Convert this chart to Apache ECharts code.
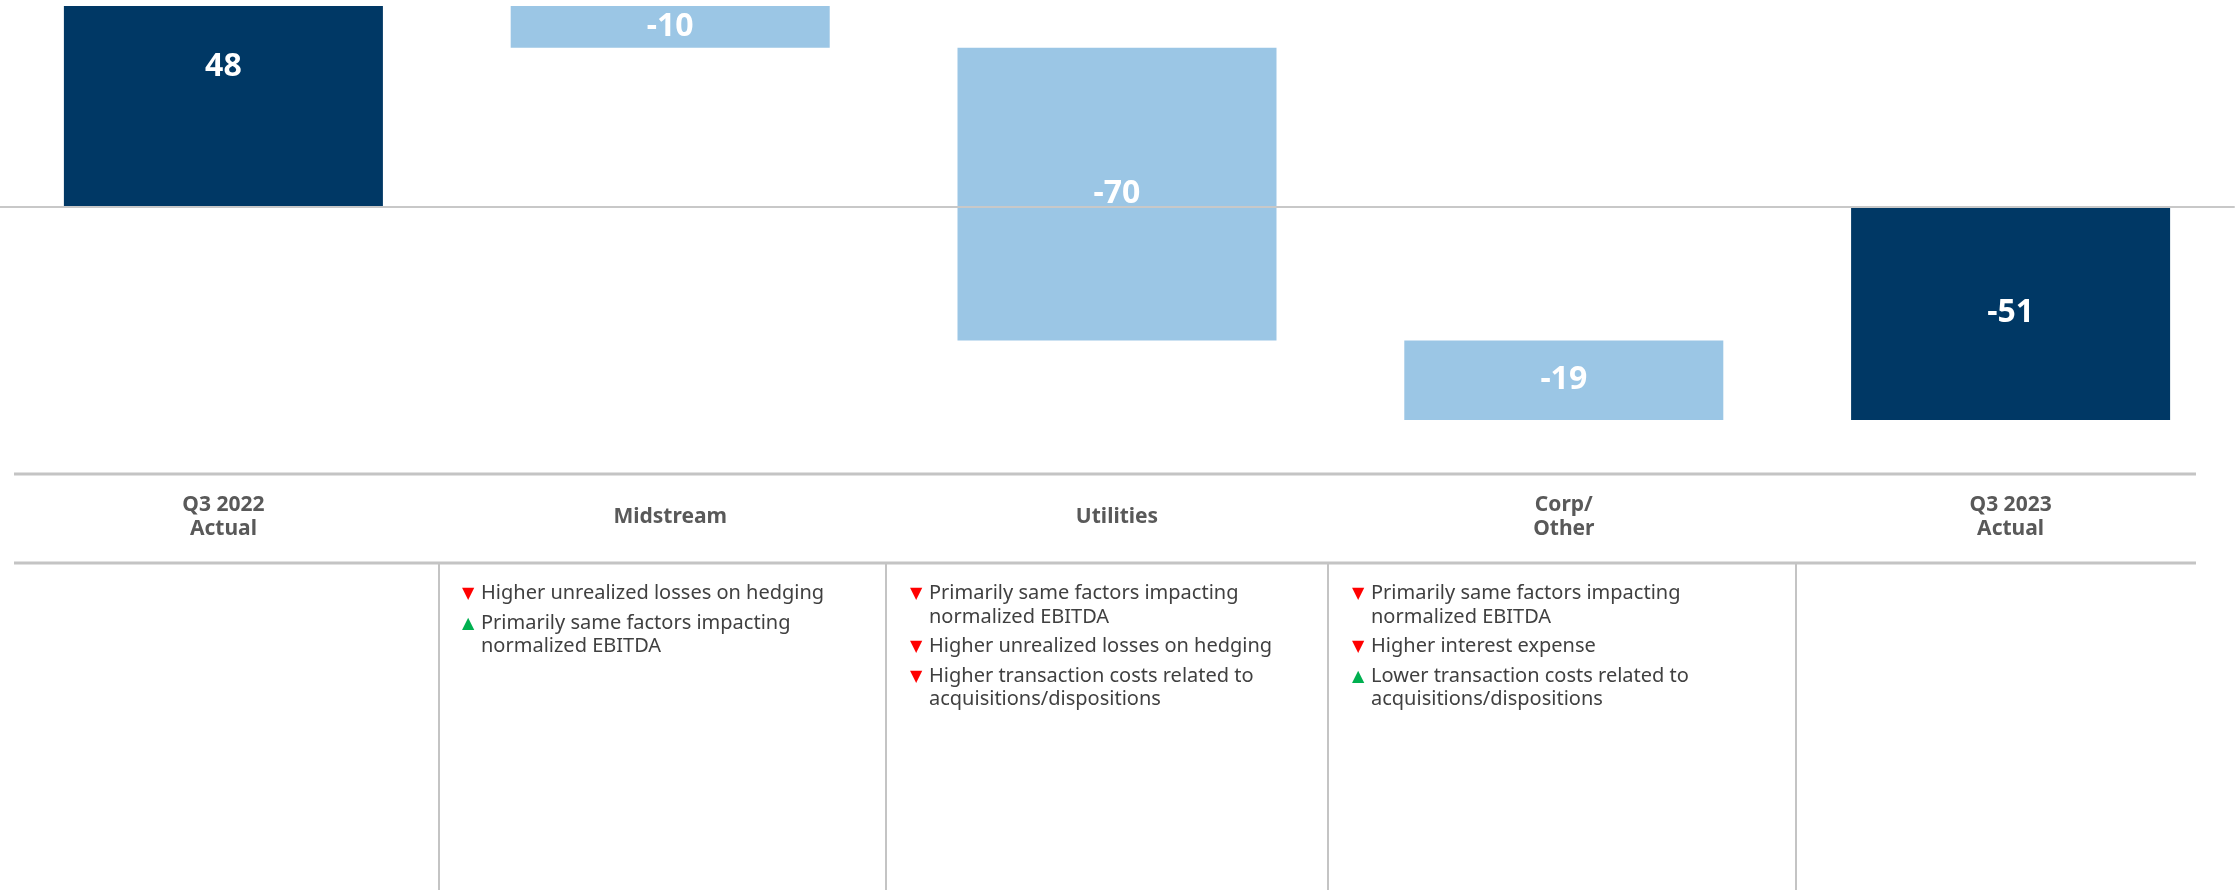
<!DOCTYPE html>
<html>
<head>
<meta charset="utf-8">
<title>Q3 2022 to Q3 2023 bridge</title>
<script src="https://cdn.jsdelivr.net/npm/echarts@6/dist/echarts.min.js"></script>
<style>
  html, body { margin: 0; padding: 0; background: #fff; }
  #chart { width: 2239px; height: 890px; }
</style>
</head>
<body>
<div id="chart"></div>
<script>
// chart data
var categories = ['Q3 2022\nActual', 'Midstream', 'Utilities', 'Corp/\nOther', 'Q3 2023\nActual']
var deltas = [48, -10, -70, -19, -51]
var isTotal = [true, false, false, false, true]

// driver notes under each column ('up' = green, 'down' = red)
var notesMidstream = [
  ['down', 'Higher unrealized losses on hedging'],
  ['up', 'Primarily same factors impacting\nnormalized EBITDA']
]
var notesUtilities = [
  ['down', 'Primarily same factors impacting\nnormalized EBITDA'],
  ['down', 'Higher unrealized losses on hedging'],
  ['down', 'Higher transaction costs related to\nacquisitions/dispositions']
]
var notesCorp = [
  ['down', 'Primarily same factors impacting\nnormalized EBITDA'],
  ['down', 'Higher interest expense'],
  ['up', 'Lower transaction costs related to\nacquisitions/dispositions']
]
var notes = [[], notesMidstream, notesUtilities, notesCorp, []]

var DARK = '#003865'
var LIGHT = '#9bc6e5'
var GRID_LINE = '#c4c4c4'
var FONT = '"Noto Sans", "Open Sans", sans-serif'

// floating bars: [index, start, end, delta]
var running = 0
var barData = deltas.map(function (d, i) {
  var start, end
  if (isTotal[i]) {
    start = 0
    end = d
  } else {
    start = running
    end = running + d
  }
  running = end
  return [i, start, end, d]
})

// table lines and note texts (layout only)
var colEdges = [439, 886, 1328, 1796]
var noteX = [0, 462, 910, 1352, 0]
var graphics = [
  { type: 'line', shape: { x1: 14, y1: 474, x2: 2196, y2: 474 }, style: { stroke: GRID_LINE, lineWidth: 3 } },
  { type: 'line', shape: { x1: 14, y1: 563, x2: 2196, y2: 563 }, style: { stroke: GRID_LINE, lineWidth: 3 } }
]
colEdges.forEach(function (x) {
  graphics.push({ type: 'line', shape: { x1: x, y1: 563, x2: x, y2: 890 }, style: { stroke: GRID_LINE, lineWidth: 2 } })
})
var LINE_H = 23.5
notes.forEach(function (list, c) {
  var y = 582
  list.forEach(function (n) {
    var up = n[0] === 'up'
    graphics.push({
      type: 'text',
      x: noteX[c],
      y: y + 4,
      style: { text: up ? '▲' : '▼', fill: up ? '#00b050' : '#ff0000', font: '16px "DejaVu Sans"' }
    })
    graphics.push({
      type: 'text',
      x: noteX[c] + 19,
      y: y,
      style: { text: n[1], fill: '#404040', font: '20px ' + FONT, lineHeight: LINE_H }
    })
    y += n[1].split('\n').length * LINE_H + 6
  })
})

var chart = echarts.init(document.getElementById('chart'))
chart.setOption({
  animation: false,
  grid: { left: -6, right: 5, top: 6, bottom: 470 },
  xAxis: {
    type: 'category',
    data: categories,
    z: 10,
    axisLine: { onZero: true, lineStyle: { color: '#c8c8c8', width: 2 } },
    axisTick: { show: false },
    axisLabel: {
      margin: 97,
      color: '#595959',
      fontSize: 21,
      fontWeight: 'bold',
      fontFamily: FONT,
      lineHeight: 24,
      verticalAlign: 'middle'
    }
  },
  yAxis: {
    type: 'value',
    min: -51,
    max: 48,
    show: false,
    splitLine: { show: false }
  },
  series: [{
    type: 'custom',
    data: barData,
    encode: { x: 0, y: [1, 2] },
    renderItem: function (params, api) {
      var i = api.value(0)
      var p1 = api.coord([i, api.value(1)])
      var p2 = api.coord([i, api.value(2)])
      var w = api.size([1, 0])[0] * 0.714
      var top = Math.min(p1[1], p2[1])
      var h = Math.abs(p1[1] - p2[1])
      return {
        type: 'rect',
        shape: { x: p1[0] - w / 2, y: top, width: w, height: h },
        style: { fill: isTotal[i] ? DARK : LIGHT },
        textContent: {
          style: { text: String(api.value(3)), fill: '#fff', font: 'bold 32px ' + FONT }
        },
        textConfig: i === 0 ? { position: 'insideTop', distance: 45 } : { position: 'inside' }
      }
    }
  }],
  graphic: graphics
})
</script>
</body>
</html>
